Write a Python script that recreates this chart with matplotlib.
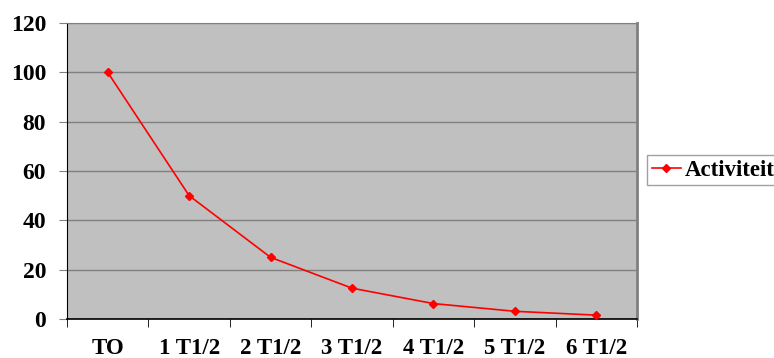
import matplotlib.pyplot as plt
import numpy as np

categorieen = ["TO", "1 T1/2", "2 T1/2", "3 T1/2", "4 T1/2", "5 T1/2", "6 T1/2"]
activiteit = [100, 50, 25, 12.5, 6.25, 3.125, 1.5625]

plt.rcParams['font.family'] = ['Liberation Serif', 'DejaVu Serif']
plt.rcParams['font.weight'] = 'bold'

fig = plt.figure(figsize=(7.74, 3.58), dpi=100)
ax = fig.add_axes([67/774, 39/358, 570/774, 296/358])
ax.set_facecolor('#c0c0c0')

x = np.arange(len(categorieen))
ax.plot(x, activiteit, color='red', lw=1.2, marker='D', ms=4.5,
        label='Activiteit', zorder=3)

ax.set_xlim(-0.5, len(categorieen) - 0.5)
ax.set_ylim(0, 120)
ax.set_yticks(np.arange(0, 121, 20))
ax.yaxis.grid(True, color='#808080', lw=1)
ax.set_axisbelow(True)

ax.set_xticks(x)
ax.set_xticklabels(categorieen, fontsize=16.5, fontweight='bold')
ax.set_xticks(np.arange(-0.5, len(categorieen)), minor=True)
ax.tick_params(axis='x', which='major', length=0, pad=14)
ax.tick_params(axis='x', which='minor', length=6, color='black', direction='out')
ax.tick_params(axis='y', length=6, color='#808080', labelsize=17, pad=9)
for lbl in ax.get_yticklabels():
    lbl.set_fontweight('bold')

ax.spines['left'].set_color('black')
ax.spines['bottom'].set_color('black')
ax.spines['bottom'].set_linewidth(1.2)
ax.spines['top'].set_color('#808080')
ax.spines['right'].set_color('#808080')
ax.spines['right'].set_linewidth(2)

leg = fig.legend(loc='upper left', bbox_to_anchor=(647/774, 1 - 155/358),
                 prop={'size': 16.5, 'weight': 'bold'}, fancybox=False,
                 framealpha=1, edgecolor='#a0a0a0', handlelength=1.3,
                 borderpad=0.2, handletextpad=0.15, borderaxespad=0)
leg.get_frame().set_linewidth(1)

fig.savefig('out.png', dpi=100)
